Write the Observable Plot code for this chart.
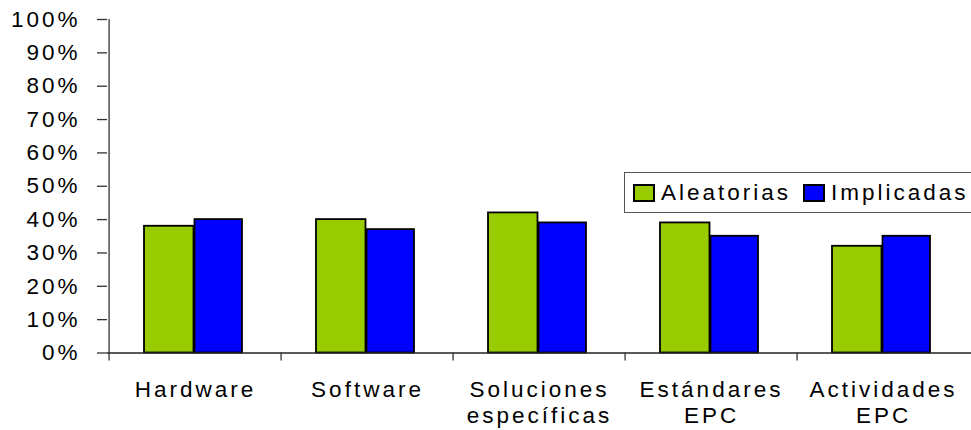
<!DOCTYPE html>
<html>
<head>
<meta charset="utf-8">
<script src="https://cdn.jsdelivr.net/npm/d3@7"></script>
<script src="https://cdn.jsdelivr.net/npm/@observablehq/plot@0.6"></script>
<style>
  html, body { margin: 0; padding: 0; background: #fff; overflow: hidden; }
  #chart { position: relative; width: 971px; height: 430px; }
  #chart svg text { letter-spacing: 3px; }
  .lg-swatch { margin-right: 13px !important; letter-spacing: 3px; }
  .lg-swatch > svg { margin-right: 7px !important; overflow: visible; }
  .lg-swatch > svg rect { stroke: #000; stroke-width: 2px; }
</style>
</head>
<body>
<div id="chart"></div>
<script>
// Categories along the x axis (line breaks split the longer labels)
const categories = ["Hardware", "Software", "Soluciones\nespecíficas", "Estándares\nEPC", "Actividades\nEPC"];
// Series names and their colours
const series = ["Aleatorias", "Implicadas"];
const seriesColors = ["#99CC00", "#0000FF"];
// Share for each category, per series
const aleatorias = [0.38, 0.40, 0.42, 0.39, 0.32];
const implicadas = [0.40, 0.37, 0.39, 0.35, 0.35];
// Y axis ticks and their labels
const yTicks = [0, 0.1, 0.2, 0.3, 0.4, 0.5, 0.6, 0.7, 0.8, 0.9, 1];
const yTickLabels = ["0%", "10%", "20%", "30%", "40%", "50%", "60%", "70%", "80%", "90%", "100%"];

const rows = categories.flatMap((c, i) => [
  {category: c, series: series[0], value: aleatorias[i]},
  {category: c, series: series[1], value: implicadas[i]}
]);

const W = 971, H = 430;
const mL = 107, mR = 0, mT = 19, mB = 77.5;
const band = (W - mL - mR) / categories.length;
const axisColor = "#333";
const fontFamily = "'Liberation Sans', Arial, sans-serif";

const chart = Plot.plot({
  width: W,
  height: H,
  marginLeft: mL,
  marginRight: mR,
  marginTop: mT,
  marginBottom: mB,
  style: {fontFamily, fontSize: "22.5px", color: "#000", background: "#fff"},
  x: {type: "band", domain: categories, padding: 0, axis: null, label: null},
  y: {domain: [0, 1], axis: null, label: null},
  color: {domain: series, range: seriesColors},
  marks: [
    Plot.barY(rows.filter(d => d.series === series[0]), {
      x: "category", y: "value", fill: "series",
      stroke: "#000", strokeWidth: 1.8, insetLeft: 35, insetRight: 87.5
    }),
    Plot.barY(rows.filter(d => d.series === series[1]), {
      x: "category", y: "value", fill: "series",
      stroke: "#000", strokeWidth: 1.8, insetLeft: 85.5, insetRight: 39
    }),
    // baseline
    Plot.ruleY([0], {stroke: "#222", strokeWidth: 1.4}),
    // vertical axis line at the left edge of the first band
    Plot.ruleX([categories[0]], {
      x: d => d, y1: 1, y2: 0, dx: -band / 2, insetBottom: -8,
      stroke: axisColor, strokeWidth: 1.3
    }),
    // short ticks between category bands
    Plot.ruleX(categories.slice(1), {
      x: d => d, y1: 0, y2: 0, dx: -band / 2, insetBottom: -8,
      stroke: axisColor, strokeWidth: 1.3
    }),
    Plot.axisY({
      ticks: yTicks,
      tickFormat: d => yTickLabels[yTicks.indexOf(d)],
      tickSize: 10, tickPadding: 17, fontSize: 22.5, label: null,
      stroke: axisColor, strokeWidth: 1.3
    }),
    Plot.axisX({tickSize: 0, tickPadding: 26, fontSize: 22.5, lineHeight: 1.14, label: null})
  ]
});

const container = document.getElementById("chart");
container.appendChild(chart);

const legend = chart.legend("color", {
  legend: "swatches",
  className: "lg",
  swatchWidth: 20,
  swatchHeight: 16
});
Object.assign(legend.style, {
  position: "absolute",
  left: "624px",
  top: "172px",
  width: "380px",
  height: "41px",
  minHeight: "0",
  boxSizing: "border-box",
  border: "1.3px solid #555",
  paddingLeft: "9px",
  margin: "0",
  fontFamily,
  fontSize: "22.5px",
  color: "#000",
  background: "#fff",
  display: "flex",
  alignItems: "center",
  flexWrap: "nowrap"
});
container.appendChild(legend);
</script>
</body>
</html>
